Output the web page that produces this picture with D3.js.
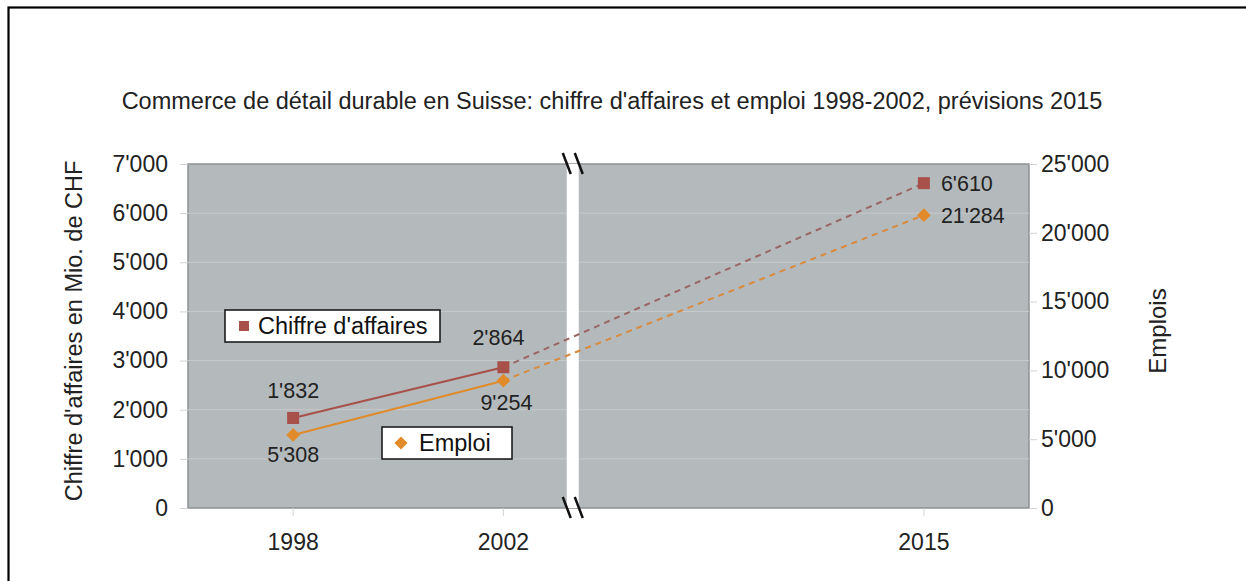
<!DOCTYPE html>
<html>
<head>
<meta charset="utf-8">
<script src="https://cdn.jsdelivr.net/npm/d3@7"></script>
<style>
  body { margin: 0; background: #fff; }
  svg { display: block; font-family: "Liberation Sans", Arial, sans-serif; }
</style>
</head>
<body>
<div id="graph"></div>
<script>
// data
var years = ["1998", "2002", "", "2015"];
var chiffre = [1832, 2864, 6610];   // Mio. CHF
var emploi = [5308, 9254, 21284];   // emplois
var dataYears = ["1998", "2002", "2015"];
var leftTicks = [0, 1000, 2000, 3000, 4000, 5000, 6000, 7000];
var rightTicks = [0, 5000, 10000, 15000, 20000, 25000];

var W = 1246, H = 581;
var m = {left: 188, right: 217, top: 164, bottom: 73};
var pw = W - m.left - m.right, ph = H - m.top - m.bottom;

var fmt = function (d) { return d3.format(",")(d).replace(/,/g, "'"); };

var svg = d3.select("#graph").append("svg")
    .attr("width", W).attr("height", H);

// outer frame (only top and left edges fall inside the picture)
svg.append("rect")
    .attr("x", 8.5).attr("y", 7.5).attr("width", W + 50).attr("height", H + 50)
    .attr("fill", "none").attr("stroke", "#000").attr("stroke-width", 2.2);

svg.append("text")
    .attr("x", 612).attr("y", 109)
    .attr("text-anchor", "middle")
    .attr("font-size", 23.5).attr("fill", "#222")
    .text("Commerce de détail durable en Suisse: chiffre d'affaires et emploi 1998-2002, prévisions 2015");

var g = svg.append("g").attr("transform", "translate(" + m.left + "," + m.top + ")");

var x = d3.scaleBand().domain(years).range([0, pw]);
var cx = function (d) { return x(d) + x.bandwidth() / 2; };
var yL = d3.scaleLinear().domain([0, 7000]).range([ph, 0]);
var yR = d3.scaleLinear().domain([0, 25000]).range([ph, 0]);

// plot area
g.append("rect")
    .attr("width", pw).attr("height", ph)
    .attr("fill", "#b4b9bc").attr("stroke", "#8d9193").attr("stroke-width", 1.5);

g.selectAll("line.grid")
    .data(leftTicks.slice(1, -1))
    .enter().append("line")
    .attr("class", "grid")
    .attr("x1", 0).attr("x2", pw)
    .attr("y1", function (d) { return yL(d); })
    .attr("y2", function (d) { return yL(d); })
    .attr("stroke", "#c6cacc").attr("stroke-width", 1);

// axes
var axL = g.append("g").call(d3.axisLeft(yL).tickValues(leftTicks).tickFormat(fmt).tickSize(8).tickPadding(12));
var axR = g.append("g").attr("transform", "translate(" + pw + ",0)")
    .call(d3.axisRight(yR).tickValues(rightTicks).tickFormat(fmt).tickSize(8).tickPadding(4));
var axB = g.append("g").attr("transform", "translate(0," + ph + ")")
    .call(d3.axisBottom(x).tickValues(dataYears).tickSize(8).tickPadding(18)
      .tickFormat(function (d) { return d; }));
[axL, axR, axB].forEach(function (a) {
  a.select(".domain").remove();
  a.selectAll(".tick line").attr("stroke", "#d0d3d5");
  a.selectAll(".tick text").attr("font-size", 23).attr("fill", "#222")
      .attr("font-family", "Liberation Sans, Arial, sans-serif");
});

// axis titles
svg.append("text")
    .attr("transform", "translate(82," + (m.top + ph / 2 - 5) + ") rotate(-90)")
    .attr("text-anchor", "middle").attr("font-size", 23.5).attr("fill", "#222")
    .text("Chiffre d'affaires en Mio. de CHF");
svg.append("text")
    .attr("transform", "translate(1166," + (m.top + ph / 2 - 5) + ") rotate(-90)")
    .attr("text-anchor", "middle").attr("font-size", 24).attr("fill", "#222")
    .text("Emplois");

// axis break
var bx = x("2002") + x.bandwidth() * 0.83;
g.append("rect")
    .attr("x", bx - 6).attr("y", 0).attr("width", 12).attr("height", ph)
    .attr("fill", "#fff");
[0, ph].forEach(function (yy) {
  [-6, 6].forEach(function (dx) {
    g.append("line")
      .attr("x1", bx + dx - 4).attr("y1", yy - 11)
      .attr("x2", bx + dx + 4).attr("y2", yy + 10)
      .attr("stroke", "#111").attr("stroke-width", 2.5);
  });
});

var cRed = "#a8504a", cOr = "#e08a2a";

function series(vals, y, col, dashCol) {
  var pts = vals.map(function (v, i) { return [cx(dataYears[i]), y(v)]; });
  g.append("path").attr("d", d3.line()(pts.slice(0, 2)))
    .attr("fill", "none").attr("stroke", col).attr("stroke-width", 2);
  g.append("path").attr("d", d3.line()(pts.slice(1)))
    .attr("fill", "none").attr("stroke", dashCol).attr("stroke-width", 2)
    .attr("stroke-dasharray", "6,5");
  return pts;
}
var pC = series(chiffre, yL, cRed, "#9a6664");
var pE = series(emploi, yR, cOr, "#d98a3c");

g.selectAll("rect.mk").data(pC).enter().append("rect")
    .attr("x", function (d) { return d[0] - 6; })
    .attr("y", function (d) { return d[1] - 6; })
    .attr("width", 12).attr("height", 12)
    .attr("fill", cRed);
g.selectAll("path.mk").data(pE).enter().append("path")
    .attr("transform", function (d) { return "translate(" + d[0] + "," + d[1] + ")"; })
    .attr("d", d3.symbol(d3.symbolDiamond2, 120))
    .attr("fill", cOr);

// value labels
var lblC = [[0, -20, "middle"], [-5, -22, "middle"], [17, 8, "start"]];
var lblE = [[0, 27, "middle"], [3, 29, "middle"], [17, 8, "start"]];
function labels(pts, vals, offs) {
  pts.forEach(function (p, i) {
    g.append("text")
      .attr("x", p[0] + offs[i][0]).attr("y", p[1] + offs[i][1])
      .attr("text-anchor", offs[i][2])
      .attr("font-size", 21.5).attr("fill", "#222")
      .text(fmt(vals[i]));
  });
}
labels(pC, chiffre, lblC);
labels(pE, emploi, lblE);

// legends
function legend(lx, ly, w, label, col, diamond) {
  var lg = svg.append("g").attr("transform", "translate(" + lx + "," + ly + ")");
  lg.append("rect").attr("width", w).attr("height", 32)
    .attr("fill", "#fff").attr("stroke", "#111").attr("stroke-width", 1.5);
  if (diamond) {
    lg.append("path").attr("transform", "translate(19,16)")
      .attr("d", d3.symbol(d3.symbolDiamond2, 110)).attr("fill", col);
  } else {
    lg.append("rect").attr("x", 14).attr("y", 11).attr("width", 10).attr("height", 10).attr("fill", col);
  }
  lg.append("text").attr("x", diamond ? 37 : 33).attr("y", 24)
    .attr("font-size", 23.5).attr("fill", "#111").text(label);
}
legend(225, 310, 215, "Chiffre d'affaires", cRed, false);
legend(382, 427, 130, "Emploi", cOr, true);
</script>
</body>
</html>
